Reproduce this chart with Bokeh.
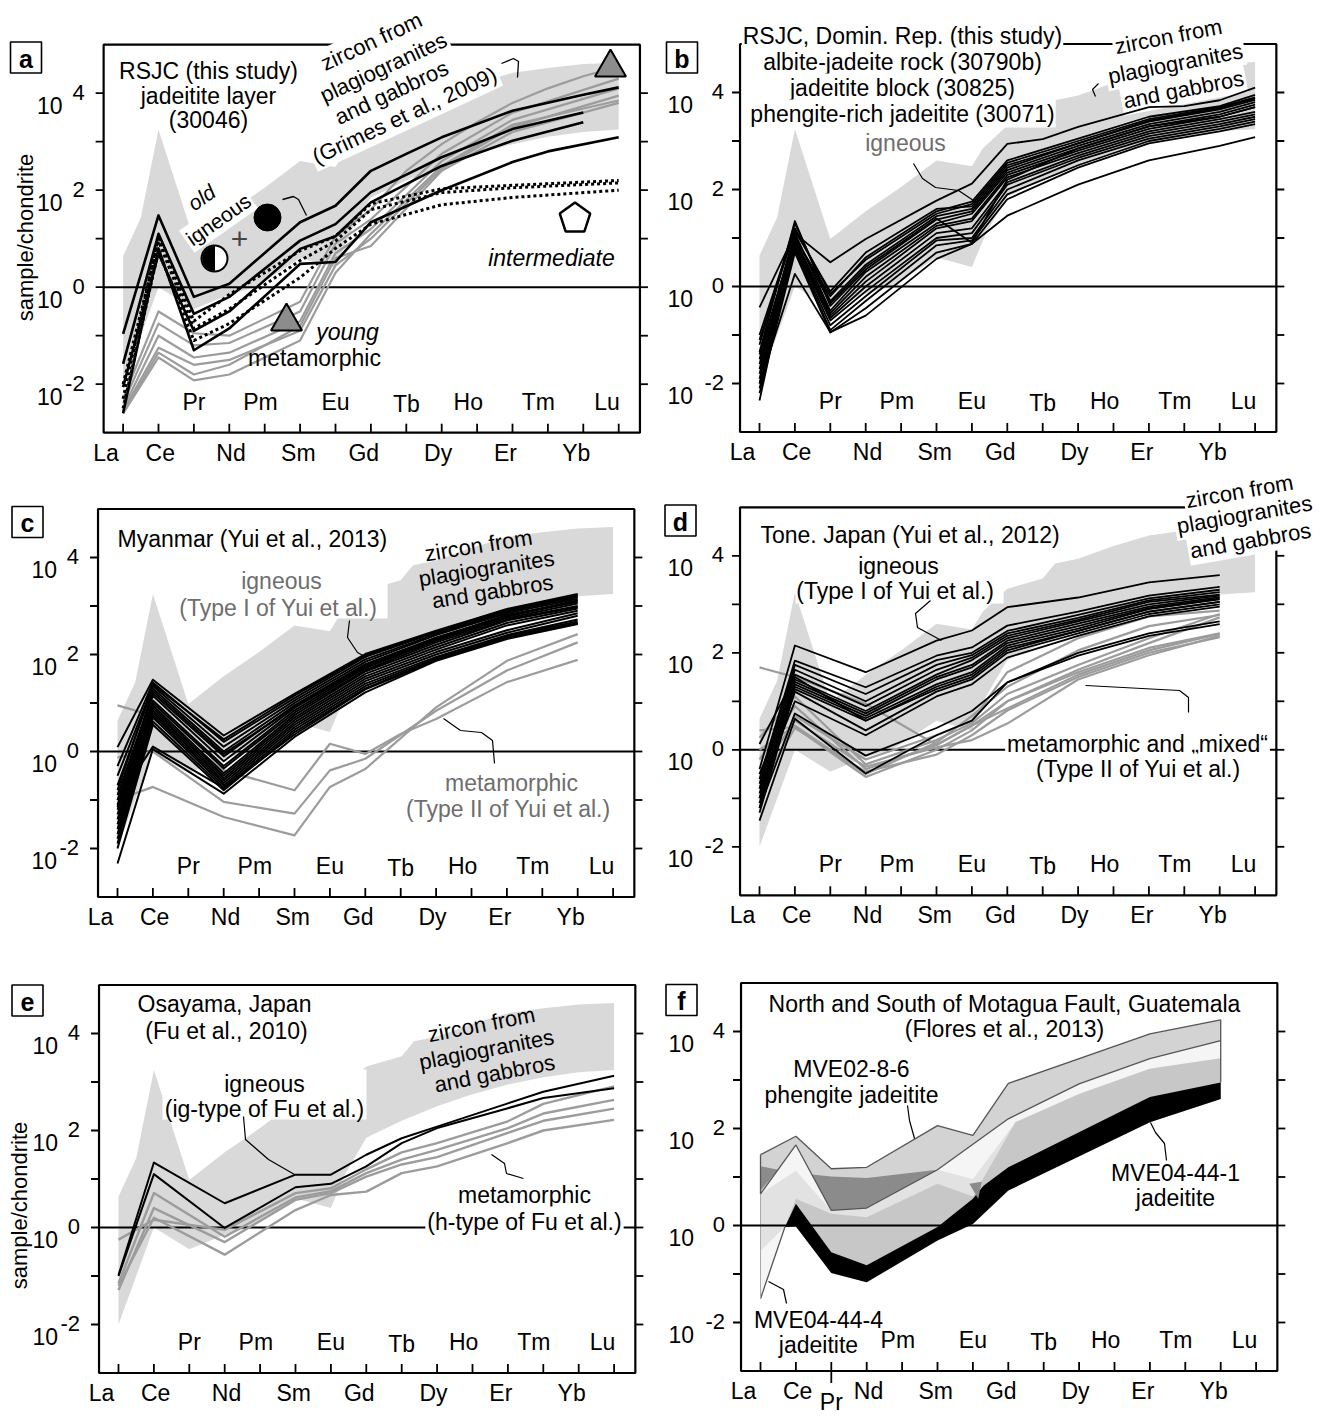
import math
from bokeh.plotting import figure
from bokeh.layouts import column, row
from bokeh.models import Range1d
from bokeh.core.properties import value
from bokeh.embed import file_html
from bokeh.resources import INLINE

FONT = "Liberation Sans"
N = None
ELEMENTS = ["La", "Ce", "Pr", "Nd", "Pm", "Sm", "Eu", "Gd", "Tb", "Dy", "Ho", "Er", "Tm", "Yb", "Lu"]
ELEM_X = list(range(1, 16))
BOTTOM_ROW = ["La", "Ce", "Nd", "Sm", "Gd", "Dy", "Er", "Yb"]
TOP_ROW = ["Pr", "Pm", "Eu", "Tb", "Ho", "Tm", "Lu"]
Y_LABEL_DECADES = [-2, 0, 2, 4]
Y_TICK_DECADES = [-2, -1, 0, 1, 2, 3, 4]

# ---- zircon field from plagiogranites and gabbros (Grimes et al. 2009), log10(sample/chondrite)
ZIRCON_HI_X = [1, 1.5, 2, 3, 4, 5, 6, 7, 7.3, 8, 9, 9.35, 10, 11, 12, 13, 14, 15]
ZIRCON_HI = [0.64, 1.43, 3.25, 0.98, 1.55, 2.05, 2.6, 2.48, 2.84, 3.32, 3.53, 3.84, 3.94, 4.2, 4.42, 4.52, 4.6, 4.63]
ZIRCON_LO_X = [1, 2, 3, 4, 4.74, 6, 7, 7.4, 8, 9, 10, 11, 12, 13, 14, 15]
ZIRCON_LO = [-2.0, 0.0, -0.45, -0.15, 0.0, 0.6, 0.4, 1.1, 1.85, 2.2, 2.5, 2.75, 2.95, 3.1, 3.2, 3.25]

# ---- panel a : RSJC jadeitite layer (30046)   [La Ce Pr Nd Pm Sm Eu Gd Tb Dy Ho Er Tm Yb Lu]
A_OLD_IGNEOUS = [
    [-0.96, 1.48, -0.20, 0.07, N, 1.34, 1.68, 2.40, 2.75, 3.09, N, 3.64, N, 3.97, 4.12],
    [-1.58, 1.10, -0.55, -0.20, N, 0.96, 1.30, 1.96, N, 2.68, N, 3.26, N, 3.60, N],
    [-2.06, 0.69, -0.90, -0.50, N, 0.79, 1.05, 1.75, N, 2.50, N, 3.02, N, 3.40, N],
    [-2.60, 0.80, -1.30, -0.85, N, 0.48, 0.52, 1.34, N, 2.00, N, 2.58, 2.80, N, 3.09],
]
A_INTERMEDIATE = [
    [-2.30, 1.05, -0.70, -0.15, N, 0.75, 1.05, 1.72, N, 2.03, N, 2.10, N, N, 2.20],
    [-2.00, 0.95, -0.85, -0.45, N, 0.55, 0.95, 1.60, N, 1.95, N, 2.05, N, N, 2.15],
    [-2.50, 0.75, -1.10, -0.75, N, 0.20, 0.80, 1.30, N, 1.70, N, 1.85, N, N, 2.00],
]
A_YOUNG_META = [
    [-2.30, -0.50, -0.95, -1.00, N, -0.30, 1.05, 1.60, 2.40, 2.95, 3.40, 3.80, 4.10, 4.35, 4.55],
    [-2.40, -0.75, -1.20, -1.15, N, -0.50, 0.90, 1.40, N, 2.75, N, 3.60, N, N, 4.30],
    [-2.50, -1.00, -1.45, -1.35, N, -0.70, 0.70, 1.20, N, 2.60, N, 3.45, N, N, 4.10],
    [-2.55, -1.25, -1.60, -1.50, N, -0.90, 0.45, 1.00, N, 2.45, N, 3.30, N, N, 3.95],
    [-2.60, -1.35, -1.80, -1.60, N, -0.80, 0.60, 0.85, N, 2.40, N, 3.20, N, N, 3.80],
    [-2.60, -1.45, -1.92, -1.80, N, -1.10, 0.30, 1.10, N, 2.50, N, 3.35, N, N, 3.85],
]

# ---- panel b : RSJC, Dominican Republic
B_IGNEOUS = [
    [-0.43, 1.09, 0.50, 0.98, N, 1.77, 2.12, 2.94, 3.04, 3.29, N, 3.70, 3.72, 3.84, 4.10],
    [-2.00, 0.26, -0.94, -0.60, N, 0.57, 0.88, 1.46, N, 2.10, N, 2.60, N, 2.90, 3.08],
    [-1.00, 1.20, -0.15, 0.55, N, 1.50, 1.70, 2.55, N, 3.00, N, 3.45, N, 3.70, 3.90],
    [-1.20, 1.30, -0.30, 0.45, N, 1.45, 1.60, 2.45, N, 2.95, N, 3.40, N, 3.65, 3.85],
    [-1.35, 1.35, -0.40, 0.35, N, 1.38, 1.55, 2.40, N, 2.90, N, 3.35, N, 3.60, 3.80],
    [-1.50, 1.10, -0.50, 0.30, N, 1.30, 1.50, 2.35, N, 2.85, N, 3.30, N, 3.55, 3.75],
    [-1.60, 1.00, -0.55, 0.20, N, 1.25, 1.40, 2.30, N, 2.80, N, 3.25, N, 3.50, 3.70],
    [-1.70, 0.95, -0.60, 0.10, N, 1.20, 1.35, 2.25, N, 2.75, N, 3.20, N, 3.45, 3.60],
    [-1.80, 0.90, -0.65, 0.00, N, 1.10, 1.20, 2.15, N, 2.70, N, 3.15, N, 3.40, 3.55],
    [-1.90, 0.85, -0.70, -0.10, N, 1.00, 1.10, 2.10, N, 2.65, N, 3.10, N, 3.35, 3.50],
    [-2.00, 0.80, -0.80, -0.20, N, 0.95, 1.00, 2.00, N, 2.60, N, 3.05, N, 3.30, 3.45],
    [-2.10, 0.75, -0.90, -0.30, N, 0.85, 0.95, 1.90, N, 2.50, N, 3.00, N, 3.25, 3.40],
    [-2.20, 0.70, -0.95, -0.45, N, 0.70, 0.88, 1.80, N, 2.45, N, 2.95, N, 3.20, 3.35],
    [-2.35, 1.00, -0.20, 0.60, N, 1.55, 1.75, 2.60, N, 3.05, N, 3.50, N, 3.72, 3.95],
    [-1.10, 1.15, -0.10, 0.70, N, 1.60, 1.65, 2.50, N, 2.95, N, 3.42, N, 3.68, 3.88],
    [-1.40, 1.05, -0.35, 0.40, N, 1.40, 0.90, 2.20, N, 2.85, N, 3.30, N, 3.50, 3.70],
]

# ---- panel c : Myanmar (Yui et al., 2013)
C_IGNEOUS = [
    [0.09, 1.48, N, 0.33, N, 1.19, N, 2.01, N, 2.49, N, 2.94, N, 3.25, N],
    [-2.31, 0.05, N, -0.87, N, 0.30, N, 1.22, N, 1.87, N, 2.32, N, 2.63, N],
    [-0.30, 1.42, N, 0.20, N, 1.10, N, 1.95, N, 2.45, N, 2.90, N, 3.20, N],
    [-0.50, 1.35, N, 0.10, N, 1.05, N, 1.90, N, 2.42, N, 2.88, N, 3.18, N],
    [-0.70, 1.30, N, 0.00, N, 1.00, N, 1.85, N, 2.40, N, 2.85, N, 3.15, N],
    [-0.90, 1.20, N, -0.10, N, 0.95, N, 1.80, N, 2.35, N, 2.80, N, 3.12, N],
    [-1.00, 1.15, N, -0.20, N, 0.90, N, 1.75, N, 2.30, N, 2.78, N, 3.10, N],
    [-1.10, 1.05, N, -0.30, N, 0.85, N, 1.72, N, 2.28, N, 2.75, N, 3.05, N],
    [-1.20, 1.00, N, -0.35, N, 0.80, N, 1.68, N, 2.25, N, 2.72, N, 3.00, N],
    [-1.30, 0.95, N, -0.45, N, 0.75, N, 1.65, N, 2.20, N, 2.70, N, 2.98, N],
    [-1.40, 0.90, N, -0.50, N, 0.70, N, 1.60, N, 2.15, N, 2.65, N, 2.95, N],
    [-1.50, 0.85, N, -0.55, N, 0.65, N, 1.55, N, 2.10, N, 2.60, N, 2.90, N],
    [-1.60, 0.80, N, -0.60, N, 0.60, N, 1.50, N, 2.05, N, 2.50, N, 2.85, N],
    [-1.70, 0.75, N, -0.65, N, 0.55, N, 1.45, N, 2.00, N, 2.45, N, 2.80, N],
    [-1.80, 0.70, N, -0.70, N, 0.50, N, 1.40, N, 1.95, N, 2.40, N, 2.72, N],
    [-1.90, 0.62, N, -0.75, N, 0.45, N, 1.35, N, 1.92, N, 2.38, N, 2.68, N],
    [-2.00, 0.55, N, -0.80, N, 0.40, N, 1.30, N, 1.90, N, 2.35, N, 2.65, N],
    [-1.00, 0.10, N, -0.75, N, 0.35, N, 1.28, N, 1.88, N, 2.34, N, 2.64, N],
    [-0.80, 1.38, N, 0.25, N, 1.15, N, 1.98, N, 2.47, N, 2.92, N, 3.22, N],
    [-1.15, 1.25, N, -0.05, N, 0.92, N, 1.78, N, 2.32, N, 2.82, N, 3.08, N],
]
C_META = [
    [0.95, 0.74, N, -0.39, N, -0.80, 0.16, -0.05, 0.36, 0.67, N, 1.43, N, 1.89, N],
    [-0.12, 0.00, N, -1.04, N, -1.28, -0.39, -0.15, N, 0.84, N, 1.67, N, 2.25, N],
    [-1.00, -0.73, N, -1.35, N, -1.73, -0.73, -0.36, N, 0.91, N, 1.87, N, 2.42, N],
]

# ---- panel d : Tone, Japan (Yui et al., 2012)
D_IGNEOUS = [
    [-0.40, 2.15, N, 1.60, N, 2.25, 2.46, 2.94, N, 3.14, N, 3.45, N, 3.60, N],
    [-0.60, 1.84, N, 1.29, N, 1.94, 2.11, 2.56, N, 2.85, N, 3.18, N, 3.36, N],
    [-0.70, 1.75, N, 1.15, N, 1.85, 2.00, 2.45, N, 2.78, N, 3.12, N, 3.30, N],
    [-0.80, 1.65, N, 1.00, N, 1.75, 1.95, 2.40, N, 2.72, N, 3.08, N, 3.25, N],
    [-0.90, 1.55, N, 0.90, N, 1.65, 1.90, 2.35, N, 2.68, N, 3.05, N, 3.20, N],
    [-1.00, 1.45, N, 0.80, N, 1.55, 1.85, 2.30, N, 2.65, N, 3.00, N, 3.18, N],
    [-1.10, 1.40, N, 0.75, N, 1.50, 1.75, 2.25, N, 2.60, N, 2.95, N, 3.15, N],
    [-1.20, 1.35, N, 0.70, N, 1.45, 1.70, 2.20, N, 2.55, N, 2.92, N, 3.12, N],
    [-0.50, 1.30, N, 0.65, N, 1.35, 1.60, 2.15, N, 2.50, N, 2.90, N, 3.10, N],
    [-1.30, 1.25, N, 0.60, N, 1.30, 1.55, 2.10, N, 2.45, N, 2.85, N, 3.05, N],
    [-1.00, 1.20, N, 0.40, N, 1.20, 1.45, 2.00, N, 2.40, N, 2.80, N, 3.00, N],
    [-0.80, 1.00, N, 0.30, N, 1.10, 1.35, 1.90, N, 2.35, N, 2.75, N, 2.95, N],
    [-1.46, 0.64, N, -0.49, N, 0.30, 0.60, 1.39, N, 1.94, N, 2.35, N, 2.59, N],
    [-1.20, 0.75, N, -0.12, N, 0.45, 0.80, 1.39, N, 2.00, N, 2.40, N, 2.65, N],
    [0.12, 1.50, N, 0.60, N, 1.25, 1.50, 2.05, N, 2.45, N, 2.85, N, 3.05, N],
]
D_META = [
    [1.70, 1.50, N, 0.95, N, 0.10, 0.50, 1.00, N, 1.60, N, 2.10, N, 2.40, N],
    [0.40, 0.47, N, -0.56, N, 0.00, 0.40, 1.00, N, 1.65, N, 2.20, N, 2.73, N],
    [0.25, 1.10, N, -0.30, N, 0.20, 0.55, 1.15, N, 1.75, N, 2.30, N, 2.80, N],
    [-0.20, 0.90, N, -0.40, N, 0.10, 0.50, 0.85, N, 1.55, N, 2.05, N, 2.39, N],
    [-0.80, 0.45, N, -0.45, N, -0.10, 0.30, 0.81, N, 1.50, N, 2.00, N, 2.32, N],
    [-1.10, 0.70, N, -0.20, N, 0.30, 0.60, 1.60, N, 2.30, N, 2.75, N, 2.87, N],
    [-0.50, 0.60, N, -0.35, N, 0.05, 0.20, 0.54, N, 1.45, N, 1.95, N, 2.35, N],
    [0.00, 0.50, N, -0.50, N, 0.15, 0.70, 1.30, N, 2.05, N, 2.55, N, 2.78, N],
]

# ---- panel e : Osayama, Japan (Fu et al., 2010)
E_IGNEOUS = [
    [-0.98, 1.34, N, 0.50, N, 1.09, 1.09, 1.50, 1.84, 2.08, N, 2.56, 2.80, N, 3.13],
    [-1.00, 1.10, N, -0.01, N, 0.83, 0.90, 1.26, 1.74, 2.05, N, 2.46, 2.67, N, 2.87],
]
E_META = [
    [-0.25, 0.16, N, -0.05, N, 0.71, 0.81, 1.20, 1.55, 1.74, N, 2.19, 2.55, N, 2.91],
    [-1.15, 0.71, N, -0.19, N, 0.62, 0.75, 1.12, 1.40, 1.60, N, 2.05, 2.35, N, 2.63],
    [-1.29, 0.40, N, -0.30, N, 0.57, 0.71, 1.05, 1.30, 1.45, N, 1.95, 2.20, N, 2.45],
    [-1.20, 0.20, N, -0.56, N, 0.36, 0.67, 0.74, 1.12, 1.26, N, 1.74, 2.00, N, 2.22],
]

# ---- panel f : Motagua Fault, Guatemala (Flores et al., 2013) - sample ranges
F_MVE02_TOP_X = [1, 2, 3, 4, 6, 7, 8, 12, 14]
F_MVE02_TOP = [1.46, 1.84, 1.17, 1.20, 2.06, 1.86, 2.93, 3.95, 4.24]
F_MVE444_TOP_X = [1, 2, 3, 4, 6, 8, 10, 12, 14]
F_MVE444_TOP = [0.65, 1.66, 0.31, 0.36, 1.15, 2.20, 2.92, 3.44, 3.81]
F_MVE444_LOW_X = [1, 1.69]
F_MVE444_LOW = [-1.51, -0.03]
F_LIGHT_TOP_X = [1, 2, 3, 4, 6, 7, 8.2, 10, 12, 14]
F_LIGHT_TOP = [0.65, 1.13, 0.31, 0.36, 1.15, 0.96, 2.13, 2.71, 3.23, 3.45]
F_LIGHT_LOW_X = [1]
F_LIGHT_LOW = [-0.52]
F_MID_TOP_X = [2, 3, 4, 6, 7, 7.2, 8.2, 10, 12, 14]
F_MID_TOP = [0.55, 0.24, 0.17, 0.86, 0.60, 0.85, 2.13, 2.71, 3.23, 3.45]
F_BLACK_TOP_X = [1.69, 2, 3, 4, 6, 7, 7.3, 8, 12, 14]
F_BLACK_TOP = [-0.03, 0.45, -0.55, -0.82, -0.03, 0.55, 0.82, 1.20, 2.65, 2.95]
F_BLACK_LOW_X = [1.69, 2, 3, 4, 6, 7, 8, 12, 14]
F_BLACK_LOW = [-0.03, -0.02, -0.98, -1.17, -0.31, 0.03, 0.72, 2.13, 2.61]
F_DARK_X = [[1, 1, 1.5], [2.45, 3, 4, 6, 4, 3], [6.9, 7.15, 7.25]]
F_DARK = [[1.22, 0.72, 1.15], [1.05, 1.01, 0.98, 1.15, 0.36, 0.31], [0.86, 0.55, 0.90]]

# ------------------------------------------------------------------ layout geometry
SX, SY = 35.4, 48.5          # px per element, px per decade
XMIN, XMAX = 0.45, 15.6
YLO, YHI = -3, 5
LABEL_DX = {"La": -0.48, "Ce": 0.05, "Pr": 0.0, "Nd": 0.05, "Pm": -0.12, "Sm": -0.05, "Eu": 0.0,
            "Gd": -0.2, "Tb": 0.0, "Dy": -0.1, "Ho": -0.25, "Er": -0.2, "Tm": -0.27, "Yb": -0.2, "Lu": -0.33}
GRAY = "#9c9c9c"
FIELD = "#d9d9d9"
TS = 23   # main text size (px)


def lin(v):
    return [10 ** a for a in v]


def pts(vals):
    xs = [ELEM_X[i] for i, v in enumerate(vals) if v is not None]
    ys = [10 ** v for v in vals if v is not None]
    return xs, ys


class Panel:
    def __init__(self, cx, cy, w, h, lx, zy, right):
        self.cx, self.cy, self.lx, self.zy, self.right = cx, cy, lx, zy, right
        x0 = 1 - (lx - cx) / SX
        ytop = (zy - cy) / SY
        self.p = figure(width=w, height=h, x_range=Range1d(x0, x0 + w / SX),
                        y_range=Range1d(10 ** (ytop - h / SY), 10 ** ytop),
                        y_axis_type="log", x_axis_location=None, y_axis_location=None,
                        output_backend="svg", toolbar_location=None, min_border=0,
                        outline_line_color=None, background_fill_color="white",
                        border_fill_color="white")
        self.p.grid.visible = False

    def fx(self, X):
        return 1 + (X - self.lx) / SX

    def fy(self, Y):
        return 10 ** ((self.zy - Y) / SY)

    def text(self, X, Y, s, size=TS, color="black", angle=0, style="normal", bg=None,
             align="center", pad=2):
        kw = {}
        if bg:
            kw = dict(background_fill_color=bg, padding=pad)
        self.p.text(x=[self.fx(X)], y=[self.fy(Y)], text=[s], text_font=value(FONT),
                    text_font_size=f"{size}px", text_color=color, text_align=align,
                    text_baseline="middle", angle=math.radians(angle), text_font_style=style, **kw)

    def path(self, P, color="black", width=1.2):
        self.p.line(x=[self.fx(a) for a, b in P], y=[self.fy(b) for a, b in P],
                    line_color=color, line_width=width)

    def block(self, X0, X1, Y0, Y1):
        self.p.quad(left=[self.fx(X0)], right=[self.fx(X1)], top=[self.fy(Y0)],
                    bottom=[self.fy(Y1)], fill_color="white", line_color=None)

    def lines(self, rows, color, width, dash="solid"):
        xs, ys = [], []
        for r in rows:
            a, b = pts(r)
            xs.append(a)
            ys.append(b)
        self.p.multi_line(xs=xs, ys=ys, line_color=color, line_width=width,
                          line_dash=dash, line_join="round")

    def zircon(self):
        xs = ZIRCON_HI_X + ZIRCON_LO_X[::-1]
        ys = lin(ZIRCON_HI) + lin(ZIRCON_LO[::-1])
        self.p.patch(xs, ys, fill_color=FIELD, line_color=None)

    def zero_line(self):
        self.p.segment(x0=[XMIN], y0=[1], x1=[XMAX], y1=[1], line_color="black", line_width=2)

    def frame(self, letter, letter_xy, f_style=False):
        p = self.p
        lo, hi = 10 ** YLO, 10 ** YHI
        p.line([XMIN, XMAX, XMAX, XMIN, XMIN, XMAX], [lo, lo, hi, hi, lo, lo],
               line_color="black", line_width=2.2)
        p.segment(x0=ELEM_X, y0=[lo] * 15, x1=ELEM_X, y1=[10 ** (YLO + 9 / SY)] * 15,
                  line_color="black", line_width=1.8)
        n = len(Y_TICK_DECADES)
        p.segment(x0=[XMIN] * n, y0=[10 ** d for d in Y_TICK_DECADES], x1=[XMIN - 8 / SX] * n,
                  y1=[10 ** d for d in Y_TICK_DECADES], line_color="black", line_width=1.8)
        p.segment(x0=[XMAX] * n, y0=[10 ** d for d in Y_TICK_DECADES], x1=[XMAX + 8 / SX] * n,
                  y1=[10 ** d for d in Y_TICK_DECADES], line_color="black", line_width=1.8)
        o10, oexp = (47, 16) if self.right else (41, 19)
        for d in Y_LABEL_DECADES:
            p.text(x=[XMIN - o10 / SX], y=[10 ** (d - 12 / SY)], text=["10"], text_font=value(FONT),
                   text_font_size="23px", text_align="right", text_baseline="middle")
            p.text(x=[XMIN - oexp / SX], y=[10 ** (d + 1 / SY)], text=[str(d)], text_font=value(FONT),
                   text_font_size="22px", text_align="right", text_baseline="middle")
        for i, el in enumerate(ELEMENTS):
            x = ELEM_X[i] + LABEL_DX[el]
            if el in BOTTOM_ROW:
                y = 10 ** (YLO - 20 / SY)
            elif el == "Pr" and f_style:
                y = 10 ** (YLO - 31 / SY)
            else:
                y = 10 ** (YLO + (29 if el == "Tb" else 31) / SY)
            p.text(x=[x], y=[y], text=[el], text_font=value(FONT), text_font_size="23px",
                   text_align="center", text_baseline="middle")
        if f_style:
            p.segment(x0=[3], y0=[lo], x1=[3], y1=[10 ** (YLO - 12 / SY)], line_color="black",
                      line_width=1.8)
        lx, ly = letter_xy
        p.rect(x=[self.fx(lx)], y=[self.fy(ly)], width=31, height=31, width_units="screen",
               height_units="screen", fill_color="white", line_color="black", line_width=1.6)
        p.text(x=[self.fx(lx)], y=[self.fy(ly + 1)], text=[letter], text_font=value(FONT),
               text_font_size="25px", text_font_style="bold", text_align="center",
               text_baseline="middle")


# ================================================================== panel a
A = Panel(0, 0, 660, 470, 122.6, 286.7, False)
A.zircon()
A.zero_line()
A.frame("a", (25.5, 57))
A.text(208, 70, "RSJC (this study)")
A.text(208, 95, "jadeitite layer")
A.text(208, 119, "(30046)")
for X, Y, s in [(371, 41, "zircon from"), (383, 67, "plagiogranites"), (391, 92, "and gabbros"),
                (404, 115, "(Grimes et al., 2009)")]:
    A.text(X, Y, s, size=22, angle=25, bg="white")
A.path([(501, 63), (513, 58), (518, 61), (517, 77)], width=1.3)
A.text(201, 197, "old", size=21, angle=35, style="italic", bg="white")
A.text(218, 219, "igneous", size=21, angle=35, bg="white")
A.lines(A_YOUNG_META, GRAY, 2.2)
A.lines(A_INTERMEDIATE, "black", 3.0, dash="3 3")
A.lines(A_OLD_IGNEOUS, "black", 2.6)
pa = A.p
pa.scatter([A.fx(267)], [A.fy(217)], marker="circle", size=27, fill_color="black", line_color="black")
pa.scatter([A.fx(214)], [A.fy(258)], marker="circle", size=26, fill_color="white", line_color="black",
           line_width=2)
pa.wedge([A.fx(214)], [A.fy(258)], radius=12, radius_units="screen", start_angle=math.pi / 2,
         end_angle=3 * math.pi / 2, fill_color="black", line_color="black")
A.text(239, 238, "+", size=30, color="#444444")
A.path([(282, 199), (293, 196), (298, 199), (306, 215)], width=1.3)
pent = [(574.5 + 16 * math.cos(math.radians(90 + 72 * k)), 218 - 16 * math.sin(math.radians(90 + 72 * k)))
        for k in range(5)]
pa.patch([A.fx(a) for a, b in pent], [A.fy(b) for a, b in pent], fill_color="white",
         line_color="black", line_width=2.5)
for X, Y in [(610, 67), (286, 321)]:
    pa.scatter([A.fx(X)], [A.fy(Y)], marker="triangle", size=31, fill_color="#8c8c8c",
               line_color="black", line_width=2)
A.text(551, 257, "intermediate", style="italic")
A.text(347, 331, "young", style="italic")
A.text(314, 357, "metamorphic")
A.text(25, 237, "sample/chondrite", size=22, angle=90)

# ================================================================== panel b
B = Panel(660, 0, 660, 470, 759, 286, True)
B.zircon()
B.zero_line()
B.frame("b", (681.5, 57))
for Y, s in [(35, "RSJC, Domin. Rep. (this study)"), (61, "albite-jadeite rock (30790b)"),
             (87, "jadeitite block (30825)"), (113, "phengite-rich jadeitite (30071)")]:
    B.text(902, Y, s, bg="white", pad=1)
for X, Y, s in [(1168, 36, "zircon from"), (1175, 63, "plagiogranites"), (1183, 89, "and gabbros")]:
    B.text(X, Y, s, size=22, angle=11, bg="white")
B.path([(1098, 83), (1092, 89), (1095, 96)], width=1.2)
B.text(905, 142, "igneous", color="#6e6e6e")
B.lines(B_IGNEOUS, "black", 1.8)
B.path([(913, 163), (922, 178), (935, 187), (958, 190), (973, 200)], width=1.2)

# ================================================================== panel c
C = Panel(0, 470, 660, 476, 117, 751, False)
C.zircon()
C.zero_line()
C.frame("c", (27, 521.5))
C.block(177, 387, 570, 618)
C.text(117, 538, "Myanmar (Yui et al., 2013)", align="left")
C.text(281, 580, "igneous", color="#6e6e6e")
C.text(281, 607, "(Type  I of Yui et al.)", color="#6e6e6e")
for X, Y, s in [(478, 545, "zircon from"), (486, 568, "plagiogranites"), (492, 591, "and gabbros")]:
    C.text(X, Y, s, size=22, angle=9)
C.lines(C_META, GRAY, 2.2)
C.lines(C_IGNEOUS, "black", 2.0)
C.path([(349, 620), (347, 637), (357, 652), (366, 657)], width=1.2)
C.text(511, 782, "metamorphic", color="#6e6e6e")
C.text(511, 808, "(Type  II of Yui et al.)", color="#6e6e6e")
C.path([(494, 763), (492, 740), (481, 732), (460, 730), (443, 718)], width=1.2)

# ================================================================== panel d
D = Panel(660, 470, 660, 476, 759, 749.3, True)
D.zircon()
D.zero_line()
D.frame("d", (680, 520))
D.block(795, 1003, 552, 603)
D.text(760, 534, "Tone. Japan (Yui et al., 2012)", align="left")
D.text(898, 565, "igneous")
D.text(898, 590, "(Type  I of Yui et al.)")
for X, Y, s in [(1239, 491, "zircon from"), (1244, 514, "plagiogranites"), (1250, 540, "and gabbros")]:
    D.text(X, Y, s, size=22, angle=10, bg="white")
D.text(1137, 743, "metamorphic and \u201emixed\u201c", bg="white")
D.text(1141, 768, "(Type  II of Yui et al.)", bg="white")
D.lines(D_META, GRAY, 2.2)
D.lines(D_IGNEOUS, "black", 1.8)
D.path([(930, 600), (915, 613), (917, 627), (941, 640)], width=1.2)
D.path([(1188, 712), (1188, 697), (1179, 690), (1085, 685)], width=1.2)

# ================================================================== panel e
E = Panel(0, 946, 660, 470, 118, 1227, False)
E.zircon()
E.zero_line()
E.frame("e", (27, 1000))
E.block(162, 366, 1069, 1119)
E.text(224, 1003, "Osayama, Japan")
E.text(226, 1030, "(Fu et al., 2010)")
E.text(264, 1083, "igneous")
E.text(264, 1108, "(ig-type of Fu et al.)")
for X, Y, s in [(481, 1024, "zircon from"), (486, 1049, "plagiogranites"), (494, 1073, "and gabbros")]:
    E.text(X, Y, s, size=22, angle=11)
E.text(524, 1194, "metamorphic")
E.text(524, 1221, "(h-type of Fu et al.)", bg="white")
E.lines(E_META, GRAY, 2.4)
E.lines(E_IGNEOUS, "black", 2.0)
E.path([(243, 1116), (245, 1139), (268, 1159), (294, 1174)], width=1.2)
E.path([(523, 1178), (506, 1173), (504, 1163), (491, 1154)], width=1.2)
E.text(19, 1205, "sample/chondrite", size=22, angle=90)

# ================================================================== panel f
F = Panel(660, 946, 660, 470, 760, 1225, True)
pf = F.p


def fpoly(top_x, top, low_x, low, color):
    xs = list(top_x) + list(low_x)[::-1]
    ys = lin(top) + lin(low)[::-1]
    pf.patch(xs, ys, fill_color=color, line_color=None)


fpoly(F_MVE02_TOP_X, F_MVE02_TOP, F_MVE444_TOP_X, F_MVE444_TOP, "#d3d3d3")
fpoly(F_MVE444_TOP_X, F_MVE444_TOP, F_MVE444_LOW_X[:1] + F_BLACK_LOW_X,
      F_MVE444_LOW[:1] + F_BLACK_LOW, "#f5f5f5")
fpoly(F_LIGHT_TOP_X, F_LIGHT_TOP, F_LIGHT_LOW_X + F_BLACK_LOW_X, F_LIGHT_LOW + F_BLACK_LOW, "#e2e2e2")
fpoly(F_MID_TOP_X, F_MID_TOP, F_BLACK_LOW_X, F_BLACK_LOW, "#c7c7c7")
fpoly(F_BLACK_TOP_X, F_BLACK_TOP, F_BLACK_LOW_X, F_BLACK_LOW, "black")
for dx, dy in zip(F_DARK_X, F_DARK):
    pf.patch(dx, lin(dy), fill_color="#8b8b8b", line_color=None)
pf.line(F_MVE02_TOP_X, lin(F_MVE02_TOP), line_color="#555555", line_width=1.3)
pf.line(F_MVE444_TOP_X, lin(F_MVE444_TOP), line_color="#555555", line_width=1.3)
pf.line(F_MVE444_LOW_X, lin(F_MVE444_LOW), line_color="#555555", line_width=1.3)
pf.line([1, 1], lin([F_MVE02_TOP[0], F_MVE444_TOP[0]]), line_color="#555555", line_width=1.3)
pf.line([1, 1], lin([F_MVE444_TOP[0], F_MVE444_LOW[0]]), line_color="#aaaaaa", line_width=1.0)
pf.line([14, 14], lin([F_MVE02_TOP[-1], F_BLACK_TOP[-1]]), line_color="#555555", line_width=1.3)
F.zero_line()
F.frame("f", (681, 999.5), f_style=True)
F.text(1004, 1003, "North and South of Motagua Fault, Guatemala")
F.text(1004, 1028, "(Flores et al., 2013)")
F.text(851, 1068, "MVE02-8-6")
F.text(851, 1094, "phengite jadeitite")
F.path([(907, 1105), (909, 1120), (914, 1138)], width=1.2)
F.text(1175, 1172, "MVE04-44-1")
F.text(1175, 1197, "jadeitite")
F.path([(1166, 1160), (1164, 1143), (1155, 1132), (1150, 1122)], width=1.2)
F.text(818, 1319, "MVE04-44-4")
F.text(818, 1344, "jadeitite")
F.path([(786, 1303), (783, 1289), (768, 1281)], width=1.2)

layout = column(row(A.p, B.p), row(C.p, D.p), row(E.p, F.p))
open("out.html", "w").write(file_html(layout, INLINE))
